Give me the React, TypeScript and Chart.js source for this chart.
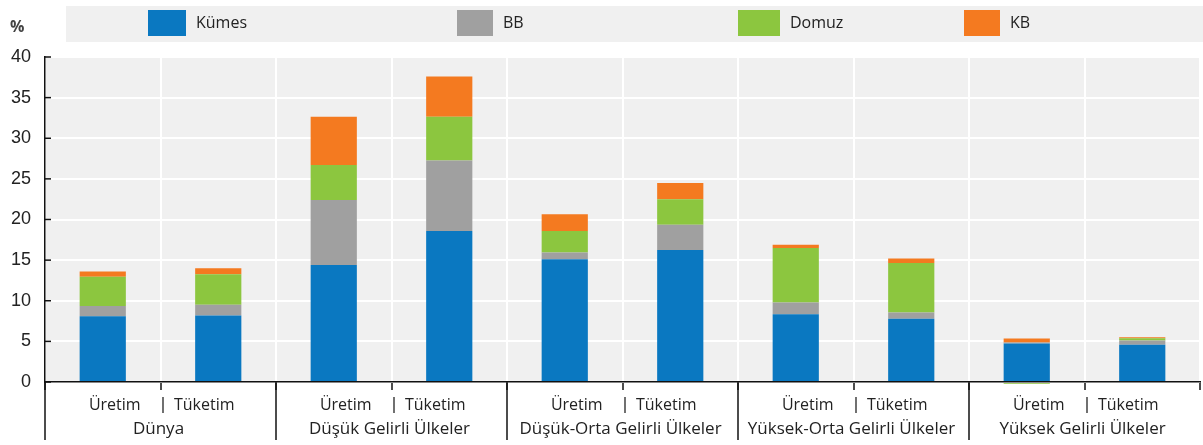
import React, { useEffect, useRef } from 'react';
import { Chart, registerables } from 'chart.js';

Chart.register(...registerables);

// ---- data ----
const categories = ['Üretim', 'Tüketim', 'Üretim', 'Tüketim', 'Üretim', 'Tüketim', 'Üretim', 'Tüketim', 'Üretim', 'Tüketim'];
const groups = ['Dünya', 'Düşük Gelirli Ülkeler', 'Düşük-Orta Gelirli Ülkeler', 'Yüksek-Orta Gelirli Ülkeler', 'Yüksek Gelirli Ülkeler'];
const seriesNames = ['Kümes', 'BB', 'Domuz', 'KB'];
const kumes = [8.1, 8.2, 14.4, 18.6, 15.1, 16.25, 8.35, 7.8, 4.75, 4.6];
const bb = [1.25, 1.3, 8.0, 8.65, 0.85, 3.1, 1.45, 0.75, 0.1, 0.5];
const domuz = [3.6, 3.75, 4.3, 5.4, 2.65, 3.15, 6.7, 6.1, -0.2, 0.3];
const kb = [0.65, 0.75, 5.95, 4.95, 2.05, 2.0, 0.4, 0.55, 0.5, 0.1];
const yMin = 0;
const yMax = 40;
const yStep = 5;

// ---- styles ----
const COLORS = ['#0a78c1', '#a0a0a0', '#8cc63f', '#f47a20'];
const AXIS = '#111111';
const TEXT = '#222222';
const LABEL_FONT = '"Open Sans", "Noto Sans", sans-serif';

export default function App() {
  const ref = useRef<HTMLCanvasElement>(null);

  useEffect(() => {
    const canvas = ref.current;
    if (!canvas) return;

    const decor = {
      id: 'decor',
      beforeDraw(chart: any) {
        const { ctx, chartArea: a } = chart;
        ctx.save();
        ctx.fillStyle = '#f0f0f0';
        ctx.fillRect(a.left, a.top, a.right - a.left, a.bottom - a.top);
        ctx.restore();
      },
      afterDraw(chart: any) {
        const { ctx, chartArea: a } = chart;
        const x = chart.scales.x;
        const y = chart.scales.y;
        const step = x.getPixelForValue(1) - x.getPixelForValue(0);
        const line = (x1: number, y1: number, x2: number, y2: number) => {
          ctx.beginPath();
          ctx.moveTo(x1, y1);
          ctx.lineTo(x2, y2);
          ctx.stroke();
        };
        ctx.save();
        ctx.strokeStyle = AXIS;
        ctx.lineWidth = 1.5;
        // inward y ticks
        y.ticks.forEach((t: any) => {
          const py = y.getPixelForValue(t.value);
          line(a.left, py, a.left + 6, py);
        });
        // group boundary lines
        for (let g = 0; g < groups.length; g++) {
          const bx = Math.round(x.getPixelForValue(g * 2) - step / 2);
          line(bx, a.bottom, bx, 440);
        }
        // sub labels
        ctx.fillStyle = TEXT;
        ctx.textAlign = 'center';
        ctx.textBaseline = 'middle';
        ctx.font = `16px ${LABEL_FONT}`;
        categories.forEach((c, i) => {
          const cx = x.getPixelForValue(i);
          if (i % 2 === 0) {
            ctx.fillText(c, cx + 12, 405);
          } else {
            ctx.fillText(c, cx - 14, 405);
            const sx = Math.round(cx - step / 2) + 2;
            ctx.lineWidth = 1.2;
            line(sx, 397, sx, 413);
            ctx.lineWidth = 1.5;
          }
        });
        // group labels
        ctx.font = `17px ${LABEL_FONT}`;
        groups.forEach((gname, i) => {
          const cx = (x.getPixelForValue(2 * i) + x.getPixelForValue(2 * i + 1)) / 2;
          ctx.fillText(gname, cx - 2, 429);
        });
        ctx.restore();
      },
    };

    const seriesValues = [kumes, bb, domuz, kb];
    const chart = new Chart(canvas, {
      type: 'bar',
      data: {
        labels: categories,
        datasets: seriesNames.map((name, i) => ({
          label: name,
          data: seriesValues[i],
          backgroundColor: COLORS[i],
          borderWidth: 0,
          barPercentage: 0.8,
          categoryPercentage: 0.5,
          clip: false as any,
        })),
      },
      options: {
        responsive: false,
        animation: false,
        layout: { padding: { top: 57, right: 3, bottom: 0, left: 0 } },
        plugins: {
          legend: { display: false },
          tooltip: { enabled: false },
        },
        scales: {
          x: {
            stacked: true,
            grid: {
              offset: true,
              color: '#ffffff',
              lineWidth: 2,
              drawTicks: true,
              tickLength: 8,
              tickColor: AXIS,
              tickWidth: 1.5,
            },
            border: { display: true, color: AXIS, width: 1.5 },
            ticks: { display: false },
            afterFit(s: any) {
              s.height = 63;
            },
          },
          y: {
            stacked: true,
            min: yMin,
            max: yMax,
            ticks: {
              stepSize: yStep,
              padding: 14,
              color: TEXT,
              font: { family: '"Liberation Sans", Arial, sans-serif', size: 18 },
            },
            grid: { color: '#ffffff', lineWidth: 2, drawTicks: false },
            border: { display: true, color: AXIS, width: 1.5 },
            afterFit(s: any) {
              s.width = 45;
            },
          },
        },
      },
      plugins: [decor],
    });
    return () => chart.destroy();
  }, []);

  const legendPos = [148, 457, 738, 964];
  const swatchW = [38, 36, 42, 36];

  return (
    <div style={{ position: 'absolute', left: 0, top: 0, width: 1203, height: 445, background: '#fff', overflow: 'hidden' }}>
      <canvas ref={ref} width={1203} height={445} style={{ position: 'absolute', left: 0, top: 0 }} />
      <div
        style={{
          position: 'absolute',
          left: 10,
          top: 15,
          fontFamily: LABEL_FONT,
          fontWeight: 700,
          fontSize: 16,
          color: '#444',
        }}
      >
        %
      </div>
      <div style={{ position: 'absolute', left: 66, top: 6, width: 1137, height: 36, background: '#f0f0f0' }}>
        {seriesNames.map((name, i) => (
          <React.Fragment key={name}>
            <div
              style={{
                position: 'absolute',
                left: legendPos[i] - 66,
                top: 4,
                width: swatchW[i],
                height: 26,
                background: COLORS[i],
              }}
            />
            <div
              style={{
                position: 'absolute',
                left: legendPos[i] - 66 + swatchW[i] + 10,
                top: 5,
                fontFamily: LABEL_FONT,
                fontSize: 16,
                color: TEXT,
                whiteSpace: 'nowrap',
              }}
            >
              {name}
            </div>
          </React.Fragment>
        ))}
      </div>
    </div>
  );
}
